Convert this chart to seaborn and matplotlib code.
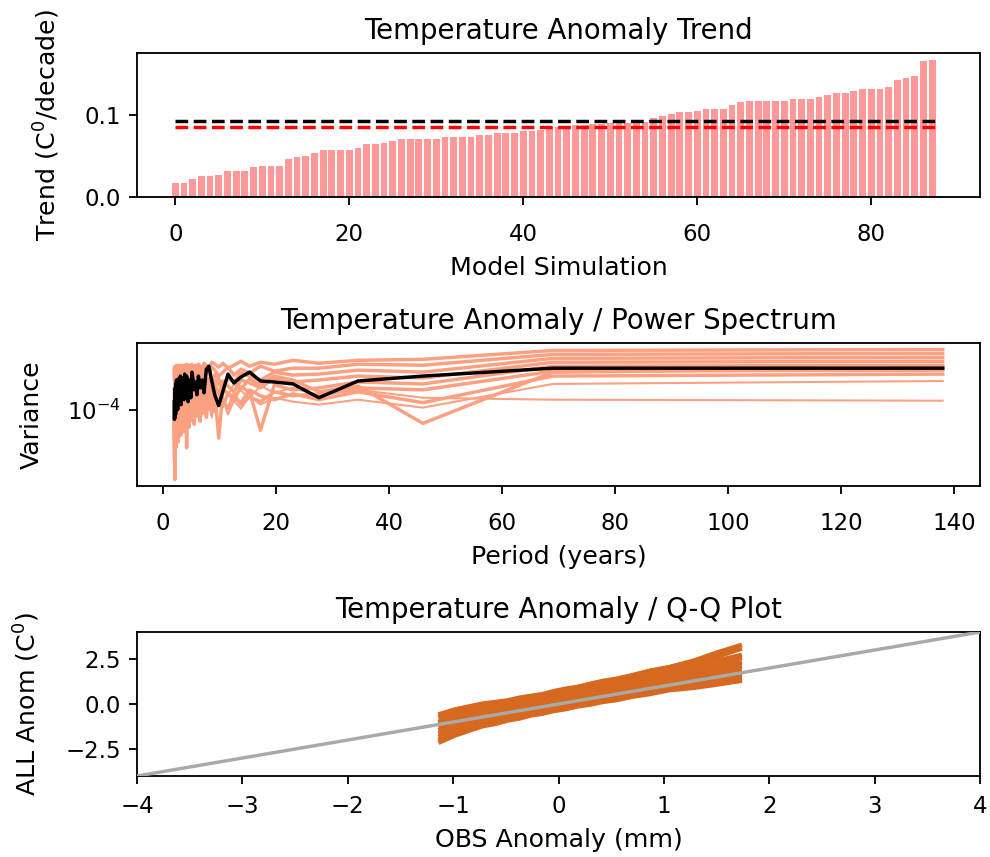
import numpy as np
import pandas as pd
import matplotlib
matplotlib.use("Agg")
import matplotlib.pyplot as plt
import seaborn as sns
from matplotlib.ticker import NullLocator

# trend of each model simulation (sorted), C/decade
model_trend = [
    0.017, 0.017, 0.022, 0.025, 0.025, 0.027, 0.031, 0.031, 0.031, 0.036,
    0.038, 0.038, 0.038, 0.046, 0.048, 0.050, 0.054, 0.057, 0.057, 0.057,
    0.057, 0.059, 0.064, 0.064, 0.066, 0.068, 0.071, 0.071, 0.071, 0.071,
    0.071, 0.073, 0.073, 0.073, 0.073, 0.075, 0.075, 0.078, 0.078, 0.078,
    0.080, 0.080, 0.081, 0.085, 0.085, 0.085, 0.088, 0.088, 0.0885, 0.089,
    0.090, 0.090, 0.090, 0.0905, 0.0905, 0.0955, 0.098, 0.101, 0.103, 0.103,
    0.105, 0.107, 0.107, 0.107, 0.112, 0.115, 0.117, 0.117, 0.117, 0.117,
    0.117, 0.119, 0.119, 0.119, 0.121, 0.124, 0.126, 0.126, 0.129, 0.131,
    0.131, 0.131, 0.133, 0.142, 0.145, 0.147, 0.1655, 0.1665,
]
obs_trend = 0.0919
ens_mean_trend = 0.0852

# power spectrum: periods (years) and log10 variance
periods = [
    138, 69, 46, 34.5, 27.6, 23, 19.71, 17.25, 15.33, 13.8, 12.55, 11.5,
    10.62, 9.86, 9.2, 8.63, 8.12, 7.67, 7.26, 6.9, 6.57, 6.27, 6.0, 5.75,
    5.52, 5.31, 5.11, 4.93, 4.76, 4.6, 4.45, 4.31, 4.18, 4.06, 3.94, 3.83,
    3.73, 3.63, 3.54, 3.45, 3.37, 3.29, 3.21, 3.14, 3.07, 3.0, 2.94, 2.88,
    2.82, 2.76, 2.71, 2.65, 2.6, 2.56, 2.51, 2.46, 2.42, 2.38, 2.34, 2.3,
    2.26, 2.23, 2.19, 2.16, 2.12, 2.09, 2.06, 2.03, 2.0,
]
obs_spectrum = [
    -3.58, -3.58, -3.66, -3.71, -3.88, -3.74, -3.72, -3.71,
    -3.62, -3.67, -3.73, -3.64, -3.81, -3.96, -3.86, -3.71,
    -3.56, -3.59, -3.83, -3.70, -3.78, -3.66, -3.85, -3.72,
    -3.80, -3.69, -3.62, -3.88, -3.75, -3.70, -3.92, -3.74,
    -3.66, -3.81, -3.72, -3.64, -3.90, -3.77, -3.70, -3.84,
    -3.68, -3.79, -3.95, -3.73, -3.66, -3.86, -3.75, -3.71,
    -3.93, -3.78, -3.69, -3.82, -4.00, -3.76, -3.72, -3.88,
    -3.80, -3.70, -3.97, -3.84, -3.74, -4.05, -3.90, -3.78,
    -4.08, -3.85, -3.95, -4.10, -3.92,
]
spec_u1 = [
    -3.39, -3.40, -3.49, -3.50, -3.53,
    -3.50, -3.54, -3.52, -3.56, -3.51, -3.55, -3.58, -3.53,
    -3.57, -3.54, -3.52, -3.59, -3.55, -3.53, -3.60, -3.56,
    -3.54, -3.58, -3.55, -3.61, -3.56, -3.54, -3.59, -3.57,
    -3.55, -3.60, -3.56, -3.54, -3.62, -3.57, -3.55, -3.59,
    -3.56, -3.61, -3.57, -3.55, -3.60, -3.58, -3.56, -3.62,
    -3.57, -3.55, -3.61, -3.58, -3.56, -3.63, -3.57, -3.59,
    -3.56, -3.62, -3.58, -3.55, -3.61, -3.57, -3.60, -3.56,
    -3.63, -3.58, -3.56, -3.61, -3.59, -3.64, -3.57, -3.62,
]
spec_u2 = [
    -3.43, -3.44, -3.55, -3.54, -3.58,
    -3.58, -3.61, -3.56, -3.63, -3.59, -3.65, -3.57, -3.62,
    -3.66, -3.60, -3.57, -3.64, -3.61, -3.58, -3.67, -3.62,
    -3.59, -3.65, -3.61, -3.68, -3.63, -3.60, -3.66, -3.62,
    -3.58, -3.64, -3.69, -3.61, -3.66, -3.63, -3.59, -3.67,
    -3.62, -3.70, -3.64, -3.60, -3.68, -3.63, -3.66, -3.61,
    -3.69, -3.64, -3.62, -3.71, -3.65, -3.60, -3.67, -3.63,
    -3.68, -3.62, -3.72, -3.66, -3.61, -3.69, -3.64, -3.70,
    -3.63, -3.67, -3.73, -3.62, -3.68, -3.65, -3.71, -3.64,
]
spec_u3 = [
    -3.47, -3.48, -3.62, -3.60, -3.64,
    -3.65, -3.62, -3.70, -3.66, -3.63, -3.72, -3.67, -3.75,
    -3.69, -3.64, -3.73, -3.68, -3.78, -3.66, -3.71, -3.65,
    -3.74, -3.69, -3.66, -3.77, -3.70, -3.73, -3.67, -3.80,
    -3.71, -3.68, -3.75, -3.70, -3.82, -3.69, -3.74, -3.67,
    -3.79, -3.72, -3.69, -3.76, -3.71, -3.84, -3.73, -3.68,
    -3.78, -3.72, -3.86, -3.70, -3.75, -3.69, -3.81, -3.74,
    -3.70, -3.88, -3.73, -3.77, -3.71, -3.83, -3.75, -3.90,
    -3.72, -3.79, -3.74, -3.93, -3.76, -3.85, -3.78, -3.95,
]
spec_u4 = [
    -3.51, -3.52, -3.68, -3.66, -3.70,
    -3.72, -3.68, -3.78, -3.73, -3.70, -3.82, -3.76, -3.71,
    -3.85, -3.74, -3.79, -3.72, -3.88, -3.76, -3.81, -3.74,
    -3.90, -3.77, -3.73, -3.84, -3.79, -3.92, -3.75, -3.82,
    -3.78, -3.95, -3.80, -3.76, -3.87, -3.81, -3.98, -3.79,
    -3.84, -3.77, -3.91, -3.82, -4.02, -3.80, -3.86, -3.78,
    -3.94, -3.83, -3.88, -4.05, -3.81, -3.90, -3.84, -3.97,
    -3.85, -4.08, -3.82, -3.93, -3.87, -4.00, -3.86, -4.12,
    -3.89, -3.95, -4.15, -3.88, -4.02, -3.92, -4.18, -3.96,
]
spec_m1 = [
    -3.55, -3.56, -3.74, -3.72, -3.78,
    -3.80, -3.75, -4.21, -3.82, -3.77, -3.90, -3.84, -3.79,
    -4.29, -3.86, -3.81, -3.95, -3.83, -3.89, -4.00, -3.85,
    -3.92, -3.87, -4.05, -3.84, -3.98, -3.90, -4.10, -3.88,
    -3.94, -4.02, -3.89, -4.15, -3.93, -3.87, -4.06, -3.96,
    -3.90, -4.20, -3.95, -4.00, -3.91, -4.12, -3.97, -3.93,
    -4.25, -3.96, -4.03, -3.94, -4.18, -3.99, -3.95, -4.08,
    -4.00, -4.30, -3.97, -4.05, -4.14, -3.98, -4.22, -4.04,
    -4.01, -4.35, -4.10, -4.06, -4.71, -4.08, -4.28, -4.12,
]
spec_m2 = [
    -3.60, -3.61, -3.80, -3.78, -3.84,
    -3.86, -3.82, -3.92, -3.87, -3.95, -3.84, -3.99, -3.90,
    -3.88, -4.02, -3.93, -3.86, -4.08, -3.95, -3.91, -4.12,
    -3.94, -4.00, -3.89, -4.15, -3.97, -3.93, -4.05, -3.99,
    -4.18, -3.96, -4.02, -4.39, -3.98, -4.10, -4.01, -3.95,
    -4.22, -4.03, -3.99, -4.14, -4.06, -4.00, -4.26, -4.04,
    -4.09, -4.02, -4.20, -4.07, -4.01, -4.32, -4.05, -4.11,
    -4.03, -4.24, -4.08, -4.15, -4.04, -4.38, -4.10, -4.06,
    -4.28, -4.12, -4.05, -4.45, -4.14, -4.20, -4.09, -4.50,
]
spec_m3 = [
    -3.64, -3.66, -3.93, -3.82, -3.90,
    -3.84, -3.90, -3.86, -3.80, -3.93, -3.88, -3.83, -3.97,
    -3.91, -3.85, -4.00, -3.92, -3.87, -3.98, -4.04, -3.90,
    -3.86, -4.07, -3.93, -3.99, -3.88, -4.11, -3.95, -3.90,
    -4.03, -3.97, -4.16, -3.92, -4.00, -3.94, -4.09, -4.21,
    -3.96, -4.05, -3.98, -4.13, -4.02, -3.95, -4.19, -4.06,
    -4.00, -4.27, -4.04, -3.99, -4.11, -4.07, -4.33, -4.02,
    -4.09, -4.16, -4.05, -4.01, -4.24, -4.10, -4.06, -4.36,
    -4.08, -4.18, -4.12, -4.55, -4.10, -4.26, -4.40, -4.15,
]
spec_o1 = [
    -3.71, -3.74, -3.98, -3.90, -3.95,
    -3.92, -3.88, -3.95, -3.86, -3.99, -3.91, -4.05, -3.89,
    -3.96, -3.90, -4.08, -3.94, -3.88, -4.01, -3.93, -4.10,
    -3.91, -3.97, -4.04, -3.89, -4.14, -3.96, -4.00, -3.92,
    -4.07, -4.19, -3.95, -4.02, -3.98, -4.12, -3.94, -4.06,
    -4.23, -3.99, -4.04, -4.10, -3.97, -4.17, -4.03, -4.08,
    -3.98, -4.21, -4.05, -4.12, -4.00, -4.29, -4.07, -4.03,
    -4.15, -4.09, -4.34, -4.04, -4.11, -4.06, -4.20, -4.13,
    -4.42, -4.08, -4.16, -4.30, -4.11, -4.60, -4.19, -4.25,
]
spec_o2 = [
    -3.91, -3.90, -3.88, -3.80, -3.86,
    -3.78, -3.83, -3.76, -3.88, -3.81, -3.74, -3.86, -3.79,
    -3.84, -3.77, -3.90, -3.82, -3.75, -3.87, -3.80, -3.93,
    -3.79, -3.85, -3.76, -3.91, -3.83, -3.78, -3.96, -3.81,
    -3.87, -3.80, -3.94, -3.84, -3.78, -3.99, -3.86, -3.82,
    -3.92, -3.85, -4.02, -3.83, -3.89, -3.80, -3.97, -3.88,
    -3.84, -4.05, -3.87, -3.93, -3.82, -3.99, -3.90, -4.08,
    -3.86, -3.94, -3.89, -4.12, -3.91, -3.85, -4.03, -3.95,
    -3.90, -4.15, -3.93, -4.00, -3.96, -4.20, -3.98, -4.05,
]
spec_o3 = [
    -3.58, -3.62, -4.14, -3.76, -3.82,
    -3.70, -3.66, -3.75, -3.69, -3.79, -3.72, -3.68, -3.81,
    -3.74, -3.70, -3.85, -3.73, -3.79, -3.69, -3.88, -3.76,
    -3.72, -3.83, -3.77, -3.71, -3.90, -3.78, -3.74, -3.86,
    -3.80, -3.75, -3.94, -3.79, -3.73, -3.88, -3.82, -3.77,
    -3.97, -3.81, -3.76, -3.91, -3.84, -3.79, -4.00, -3.83,
    -3.78, -3.93, -3.86, -3.81, -4.04, -3.85, -3.80, -3.96,
    -3.88, -4.07, -3.83, -3.92, -3.87, -4.11, -3.90, -3.85,
    -3.99, -4.14, -3.89, -3.94, -4.18, -3.92, -4.03, -4.22,
]
band_spectra = [spec_u1, spec_u2, spec_u3, spec_u4, spec_m1, spec_m2,
                spec_m3, spec_o3]
outlier_spectra = [spec_o1, spec_o2]

# Q-Q: sorted observed anomalies vs sorted model anomalies
obs_quantiles = [-1.12, -0.98, -0.85, -0.72, -0.60, -0.48, -0.37, -0.26, -0.15, -0.04,
                 0.07, 0.18, 0.30, 0.42, 0.55, 0.70, 0.86, 1.05, 1.28, 1.50, 1.72]
model_quantiles = [
    [-0.55, -0.30, -0.14, 0.02, 0.11, 0.20, 0.35, 0.45, 0.55, 0.72, 0.85, 0.95, 1.12, 1.28, 1.40, 1.60, 1.84, 2.05, 2.40, 2.85, 3.25],
    [-0.70, -0.53, -0.30, -0.15, -0.06, 0.10, 0.21, 0.30, 0.42, 0.57, 0.70, 0.81, 0.99, 1.15, 1.27, 1.44, 1.68, 1.95, 2.20, 2.62, 3.05],
    [-0.95, -0.66, -0.48, -0.30, -0.20, -0.04, 0.06, 0.16, 0.33, 0.44, 0.54, 0.70, 0.86, 0.95, 1.15, 1.32, 1.48, 1.76, 2.02, 2.40, 2.70],
    [-1.05, -0.88, -0.60, -0.47, -0.30, -0.20, -0.05, 0.04, 0.20, 0.31, 0.41, 0.58, 0.70, 0.86, 1.02, 1.15, 1.38, 1.57, 1.90, 2.15, 2.55],
    [-1.22, -1.01, -0.74, -0.60, -0.42, -0.31, -0.17, -0.07, 0.08, 0.17, 0.33, 0.46, 0.58, 0.75, 0.87, 1.06, 1.22, 1.48, 1.70, 2.03, 2.30],
    [-1.42, -1.12, -0.90, -0.68, -0.57, -0.40, -0.31, -0.15, -0.05, 0.10, 0.20, 0.35, 0.46, 0.63, 0.75, 0.94, 1.10, 1.35, 1.56, 1.85, 2.08],
    [-1.60, -1.28, -1.05, -0.83, -0.72, -0.54, -0.45, -0.28, -0.17, -0.02, 0.08, 0.23, 0.33, 0.50, 0.60, 0.80, 0.95, 1.20, 1.38, 1.65, 1.85],
    [-1.78, -1.42, -1.18, -0.95, -0.84, -0.66, -0.56, -0.38, -0.28, -0.13, -0.03, 0.12, 0.22, 0.38, 0.48, 0.68, 0.83, 1.07, 1.24, 1.48, 1.62],
    [-1.95, -1.58, -1.33, -1.10, -0.98, -0.78, -0.69, -0.51, -0.41, -0.26, -0.16, -0.01, 0.09, 0.25, 0.35, 0.55, 0.69, 0.92, 1.06, 1.27, 1.40],
    [-2.10, -1.74, -1.48, -1.23, -1.10, -0.91, -0.80, -0.63, -0.53, -0.38, -0.28, -0.13, -0.03, 0.12, 0.22, 0.41, 0.55, 0.77, 0.90, 1.08, 1.28],
]


def spectra_frame(spectra):
    return pd.concat([
        pd.DataFrame({"period": periods, "variance": 10.0 ** np.array(s), "model": i})
        for i, s in enumerate(spectra)
    ])


fig = plt.figure(figsize=(6.0, 857 / 165), dpi=165)
ax1 = fig.add_axes([0.1384, 0.7701, 0.8515, 0.168])
ax2 = fig.add_axes([0.1384, 0.4329, 0.8515, 0.1669])
ax3 = fig.add_axes([0.1384, 0.0945, 0.8515, 0.168])

# --- trend bars
n_sim = len(model_trend)
sns.barplot(x=np.arange(n_sim), y=model_trend, native_scale=True, color="#ff9999",
            saturation=1, width=0.78, errorbar=None, ax=ax1)
ax1.hlines(0, -0.4, n_sim + 0.4, color="gray", lw=0.8)
ax1.hlines(obs_trend, 0, n_sim - 0.4, color="black", linestyles="--", lw=1.5)
ax1.hlines(ens_mean_trend, 0, n_sim - 0.4, color="red", linestyles="--", lw=1.5)
ax1.set_xlim(-4.4, 92.5)
ax1.set_xticks([0, 20, 40, 60, 80])
ax1.set_yticks([0.0, 0.1])
ax1.tick_params(axis="x", pad=8)
ax1.set_title("Temperature Anomaly Trend")
ax1.set_xlabel("Model Simulation", fontsize=11)
ax1.set_ylabel("Trend (C$^0$/decade)", fontsize=11, labelpad=10)

# --- power spectrum
sns.lineplot(data=spectra_frame(band_spectra), x="period", y="variance", units="model",
             estimator=None, sort=False, color="#fca082", lw=1.5, ax=ax2)
sns.lineplot(data=spectra_frame(outlier_spectra), x="period", y="variance", units="model",
             estimator=None, sort=False, color="#fca082", lw=0.9, ax=ax2)
sns.lineplot(x=periods, y=10.0 ** np.array(obs_spectrum), sort=False, color="black",
             lw=1.5, ax=ax2)
ax2.set_yscale("log")
ax2.yaxis.set_minor_locator(NullLocator())
ax2.set_xlim(-4.6, 144.6)
ax2.tick_params(axis="x", pad=8)
ax2.set_title("Temperature Anomaly / Power Spectrum")
ax2.set_xlabel("Period (years)", fontsize=11)
ax2.set_ylabel("Variance", fontsize=11, labelpad=10)

# --- Q-Q plot
qq_df = pd.concat([
    pd.DataFrame({"obs": obs_quantiles, "model": q, "run": i})
    for i, q in enumerate(model_quantiles)
])
sns.lineplot(data=qq_df, x="obs", y="model", units="run", estimator=None,
             sort=False, color="#d6691f", lw=2.0, ax=ax3)
ax3.axline((0, 0), slope=1, color="darkgray", lw=1.5, zorder=3)
ax3.set_xlim(-4, 4)
ax3.set_ylim(-4, 4)
ax3.set_xticks([-4, -3, -2, -1, 0, 1, 2, 3, 4])
ax3.set_yticks([-2.5, 0.0, 2.5])
ax3.tick_params(axis="x", pad=5)
ax3.set_title("Temperature Anomaly / Q-Q Plot")
ax3.set_xlabel("OBS Anomaly (mm)", fontsize=11)
ax3.set_ylabel("ALL Anom (C$^0$)", fontsize=11, labelpad=10)

fig.savefig("out.png", dpi=165)
